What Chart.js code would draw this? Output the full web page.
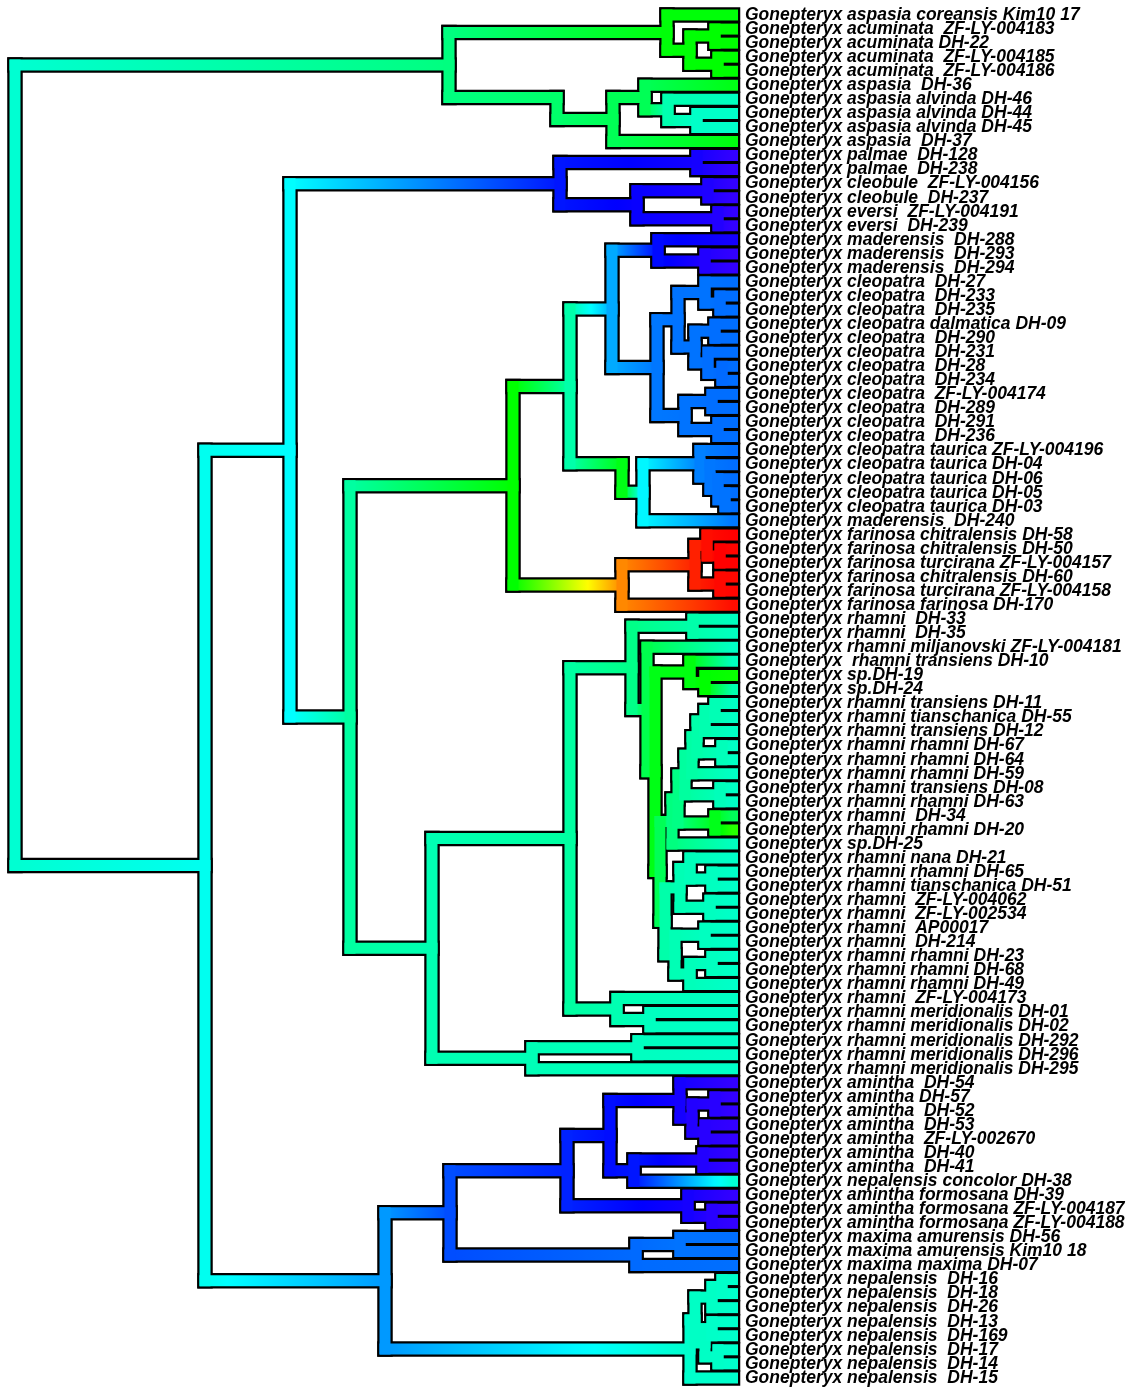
<!DOCTYPE html>
<html>
<head>
<meta charset="utf-8">
<script src="https://cdn.jsdelivr.net/npm/chart.js@4.4.1/dist/chart.umd.min.js"></script>
<style>
  html, body { margin: 0; padding: 0; background: #fff; }
  #wrap { width: 1135px; height: 1389px; }
</style>
</head>
<body>
<div id="wrap"><canvas id="tree"></canvas></div>
<script>
// tip labels, top to bottom
const tipLabels = [
  "Gonepteryx aspasia coreansis Kim10 17",
  "Gonepteryx acuminata  ZF-LY-004183",
  "Gonepteryx acuminata DH-22",
  "Gonepteryx acuminata  ZF-LY-004185",
  "Gonepteryx acuminata  ZF-LY-004186",
  "Gonepteryx aspasia  DH-36",
  "Gonepteryx aspasia alvinda DH-46",
  "Gonepteryx aspasia alvinda DH-44",
  "Gonepteryx aspasia alvinda DH-45",
  "Gonepteryx aspasia  DH-37",
  "Gonepteryx palmae  DH-128",
  "Gonepteryx palmae  DH-238",
  "Gonepteryx cleobule  ZF-LY-004156",
  "Gonepteryx cleobule  DH-237",
  "Gonepteryx eversi  ZF-LY-004191",
  "Gonepteryx eversi  DH-239",
  "Gonepteryx maderensis  DH-288",
  "Gonepteryx maderensis  DH-293",
  "Gonepteryx maderensis  DH-294",
  "Gonepteryx cleopatra  DH-27",
  "Gonepteryx cleopatra  DH-233",
  "Gonepteryx cleopatra  DH-235",
  "Gonepteryx cleopatra dalmatica DH-09",
  "Gonepteryx cleopatra  DH-290",
  "Gonepteryx cleopatra  DH-231",
  "Gonepteryx cleopatra  DH-28",
  "Gonepteryx cleopatra  DH-234",
  "Gonepteryx cleopatra  ZF-LY-004174",
  "Gonepteryx cleopatra  DH-289",
  "Gonepteryx cleopatra  DH-291",
  "Gonepteryx cleopatra  DH-236",
  "Gonepteryx cleopatra taurica ZF-LY-004196",
  "Gonepteryx cleopatra taurica DH-04",
  "Gonepteryx cleopatra taurica DH-06",
  "Gonepteryx cleopatra taurica DH-05",
  "Gonepteryx cleopatra taurica DH-03",
  "Gonepteryx maderensis  DH-240",
  "Gonepteryx farinosa chitralensis DH-58",
  "Gonepteryx farinosa chitralensis DH-50",
  "Gonepteryx farinosa turcirana ZF-LY-004157",
  "Gonepteryx farinosa chitralensis DH-60",
  "Gonepteryx farinosa turcirana ZF-LY-004158",
  "Gonepteryx farinosa farinosa DH-170",
  "Gonepteryx rhamni  DH-33",
  "Gonepteryx rhamni  DH-35",
  "Gonepteryx rhamni miljanovski ZF-LY-004181",
  "Gonepteryx  rhamni transiens DH-10",
  "Gonepteryx sp.DH-19",
  "Gonepteryx sp.DH-24",
  "Gonepteryx rhamni transiens DH-11",
  "Gonepteryx rhamni tianschanica DH-55",
  "Gonepteryx rhamni transiens DH-12",
  "Gonepteryx rhamni rhamni DH-67",
  "Gonepteryx rhamni rhamni DH-64",
  "Gonepteryx rhamni rhamni DH-59",
  "Gonepteryx rhamni transiens DH-08",
  "Gonepteryx rhamni rhamni DH-63",
  "Gonepteryx rhamni  DH-34",
  "Gonepteryx rhamni rhamni DH-20",
  "Gonepteryx sp.DH-25",
  "Gonepteryx rhamni nana DH-21",
  "Gonepteryx rhamni rhamni DH-65",
  "Gonepteryx rhamni tianschanica DH-51",
  "Gonepteryx rhamni  ZF-LY-004062",
  "Gonepteryx rhamni  ZF-LY-002534",
  "Gonepteryx rhamni  AP00017",
  "Gonepteryx rhamni  DH-214",
  "Gonepteryx rhamni rhamni DH-23",
  "Gonepteryx rhamni rhamni DH-68",
  "Gonepteryx rhamni rhamni DH-49",
  "Gonepteryx rhamni  ZF-LY-004173",
  "Gonepteryx rhamni meridionalis DH-01",
  "Gonepteryx rhamni meridionalis DH-02",
  "Gonepteryx rhamni meridionalis DH-292",
  "Gonepteryx rhamni meridionalis DH-296",
  "Gonepteryx rhamni meridionalis DH-295",
  "Gonepteryx amintha  DH-54",
  "Gonepteryx amintha DH-57",
  "Gonepteryx amintha  DH-52",
  "Gonepteryx amintha  DH-53",
  "Gonepteryx amintha  ZF-LY-002670",
  "Gonepteryx amintha  DH-40",
  "Gonepteryx amintha  DH-41",
  "Gonepteryx nepalensis concolor DH-38",
  "Gonepteryx amintha formosana DH-39",
  "Gonepteryx amintha formosana ZF-LY-004187",
  "Gonepteryx amintha formosana ZF-LY-004188",
  "Gonepteryx maxima amurensis DH-56",
  "Gonepteryx maxima amurensis Kim10 18",
  "Gonepteryx maxima maxima DH-07",
  "Gonepteryx nepalensis  DH-16",
  "Gonepteryx nepalensis  DH-18",
  "Gonepteryx nepalensis  DH-26",
  "Gonepteryx nepalensis  DH-13",
  "Gonepteryx nepalensis  DH-169",
  "Gonepteryx nepalensis  DH-17",
  "Gonepteryx nepalensis  DH-14",
  "Gonepteryx nepalensis  DH-15"
];

// mapped trait at each tip (0 = red end, 1 = violet end of the rainbow scale)
const tipTraits = [
  0.484, 0.476, 0.476, 0.476, 0.476, 0.496, 0.655, 0.663, 0.663, 0.49,
  1.0, 1.0, 1.0, 1.0, 1.0, 1.0, 0.972, 1.0, 1.0,
  0.85, 0.85, 0.85, 0.85, 0.85, 0.85, 0.85, 0.85, 0.85, 0.85, 0.85, 0.85,
  0.85, 0.85, 0.85, 0.85, 0.85, 0.841,
  0.0, 0.004, 0.0, 0.008, 0.004, 0.012,
  0.655, 0.655, 0.66, 0.655, 0.468, 0.64,
  0.66, 0.66, 0.66, 0.66, 0.66, 0.66, 0.66, 0.66, 0.56, 0.44, 0.655,
  0.663, 0.663, 0.663, 0.663, 0.663, 0.663, 0.663, 0.663, 0.663, 0.663,
  0.66, 0.663, 0.663, 0.663, 0.663, 0.663,
  1.0, 1.0, 1.0, 1.0, 1.0, 1.0, 1.0, 0.675, 1.0, 1.0, 1.0,
  0.849, 0.849, 0.849,
  0.667, 0.667, 0.667, 0.667, 0.667, 0.667, 0.667, 0.667
];

// clades: [node depth, node trait, ...children]; a plain number is a tip index
const acuminata = [667, 0.484, 0, [690, 0.48, [715, 0.476, 1, 2], [718, 0.476, 3, 4]]];
const aspasia = [557, 0.575, [613, 0.556, [645, 0.556, 5, [668, 0.64, 6, [697, 0.663, 7, 8]]], 9]];
const palmae = [560, 0.933, [697, 0.972, 10, 11], [637, 0.96, [708, 0.98, 12, 13], [718, 0.984, 14, 15]]];
const maderensis = [658, 0.944, 16, [705, 0.984, 17, 18]];
const cleopatra = [657, 0.841,
  [678, 0.845, [705, 0.845, 19, [720, 0.85, 20, 21]],
               [695, 0.845, [715, 0.85, 22, 23], [708, 0.85, 24, [722, 0.853, 25, 26]]]],
  [685, 0.845, [712, 0.85, 27, 28], [718, 0.85, 29, 30]]];
const taurica = [622, 0.496, [643, 0.722,
  [700, 0.833, 31, [710, 0.841, 32, [718, 0.845, 33, [725, 0.845, 34, 35]]]], 36]];
const farinosa = [622, 0.127, [695, 0.03, [707, 0.012, 37, [720, 0, 38, 39]], [720, 0.008, 40, 41]], 42];

const rhamniComb = [672, 0.595,
  [678, 0.6,
    [685, 0.625,
      [692, 0.63,
        [697, 0.635, [705, 0.64, [715, 0.645, 49, 50], 51], [722, 0.65, 52, 53]],
        54],
      [720, 0.65, 55, 56]],
    [715, 0.5, 57, 58]],
  59];
const rhamniLower = [665, 0.635,
  [680, 0.645, [690, 0.65, 60, [712, 0.655, 61, 62]], [710, 0.655, 63, 64]],
  [675, 0.645, [705, 0.655, 65, 66], [690, 0.65, [712, 0.655, 67, 68], 69]]];
const rhamni = [570, 0.627,
  [632, 0.603, [693, 0.635, 43, 44],
    [647, 0.548, 45,
      [655, 0.496, [690, 0.49, 46, [705, 0.476, 47, 48]], [660, 0.556, rhamniComb, rhamniLower]]]],
  [617, 0.643, 70, [650, 0.655, 71, 72]]];
const meridionalis = [532, 0.647, [638, 0.655, 73, 74], 75];

const amintha = [567, 0.921,
  [610, 0.94,
    [680, 0.972, 76, [692, 0.984, [715, 0.99, 77, 78], [705, 0.99, 79, 80]]],
    [634, 0.933, [703, 0.984, 81, 82], 83]],
  [688, 0.972, 84, [712, 0.99, 85, 86]]];
const maxima = [636, 0.853, [680, 0.845, 87, 88], 89];
const nepalensis = [690, 0.667,
  [695, 0.66, [712, 0.66, [722, 0.663, 90, 91], 92], [705, 0.66, [712, 0.663, 93, 94], [718, 0.663, 95, 96]]],
  97];

// backbone
const cladeA = [449, 0.595, acuminata, aspasia];
const cladeE = [513, 0.476, [570, 0.635, [612, 0.794, maderensis, cleopatra], taurica], farinosa];
const cladeG = [432, 0.643, rhamni, meridionalis];
const cladeC = [290, 0.715, palmae, [350, 0.627, cladeE, cladeG]];
const cladeH = [385, 0.81, [450, 0.881, amintha, maxima], nepalensis];
const root = [15, 0.672, cladeA, [205, 0.7, cladeC, cladeH]];

const TIP_DEPTH = 732.5;

// rainbow palette as in contMap (red -> violet)
function traitColor(t) {
  const h = 252 * Math.min(1, Math.max(0, t));
  return 'hsl(' + h.toFixed(1) + ',100%,50%)';
}

// walk the tree: tips sit at their index, nodes in the middle of their children
const segments = [];
function layout(node) {
  if (typeof node === 'number') {
    return { x: TIP_DEPTH, t: tipTraits[node], y: node, firstY: node };
  }
  const x = node[0], t = node[1];
  const kids = node.slice(2).map(layout);
  let y;
  if (kids.length === 1) y = kids[0].firstY;
  else y = (kids[0].y + kids[kids.length - 1].y) / 2;
  const ys = kids.map(k => k.y).concat([y]);
  segments.push({ x0: x, x1: x, y0: Math.min.apply(null, ys), y1: Math.max.apply(null, ys), t0: t, t1: t });
  kids.forEach(k => {
    segments.push({ x0: x, x1: k.x, y0: k.y, y1: k.y, t0: t, t1: k.t });
  });
  return { x, t, y, firstY: kids[0].y };
}
layout(root);

function branchColor(seg) {
  if (seg.t0 === seg.t1 || seg.x0 === seg.x1) return traitColor(seg.t0);
  return function (ctx) {
    const chart = ctx.chart;
    if (!chart.chartArea) return traitColor(seg.t1);
    const xs = chart.scales.x;
    const p0 = xs.getPixelForValue(seg.x0);
    const p1 = xs.getPixelForValue(seg.x1);
    const g = chart.ctx.createLinearGradient(p0, 0, p1, 0);
    const n = 16;
    for (let k = 0; k <= n; k++) {
      g.addColorStop(k / n, traitColor(seg.t0 + (seg.t1 - seg.t0) * k / n));
    }
    return g;
  };
}

const datasets = [];
segments.forEach(seg => {
  const pts = [{ x: seg.x0, y: seg.y0 }, { x: seg.x1, y: seg.y1 }];
  datasets.push({
    data: pts, showLine: true, borderColor: '#000', borderWidth: 15.5,
    borderCapStyle: 'square', pointRadius: 0, order: 2, clip: false
  });
  datasets.push({
    data: pts, showLine: true, borderColor: branchColor(seg), borderWidth: 11,
    borderCapStyle: 'square', pointRadius: 0, order: 1, clip: false
  });
});

new Chart(document.getElementById('tree'), {
  type: 'scatter',
  data: { datasets: datasets },
  options: {
    responsive: true,
    maintainAspectRatio: false,
    animation: false,
    events: [],
    layout: { padding: 0 },
    plugins: { legend: { display: false }, tooltip: { enabled: false } },
    scales: {
      x: { type: 'linear', min: 0, max: 740, display: false },
      y: {
        type: 'linear',
        position: 'right',
        reverse: true,
        min: -1.07,
        max: 97.79,
        grid: { display: false, drawTicks: false },
        border: { display: false },
        afterBuildTicks: axis => {
          axis.ticks = tipLabels.map((_, i) => ({ value: i }));
        },
        afterFit: axis => {
          axis.width = 395;
          axis.paddingTop = 0;
          axis.paddingBottom = 0;
        },
        ticks: {
          autoSkip: false,
          padding: 5,
          color: '#000',
          font: { family: '"Liberation Sans", Arial, sans-serif', size: 17.5, style: 'italic', weight: 'bold' },
          callback: value => tipLabels[value]
        }
      }
    }
  }
});
</script>
</body>
</html>
